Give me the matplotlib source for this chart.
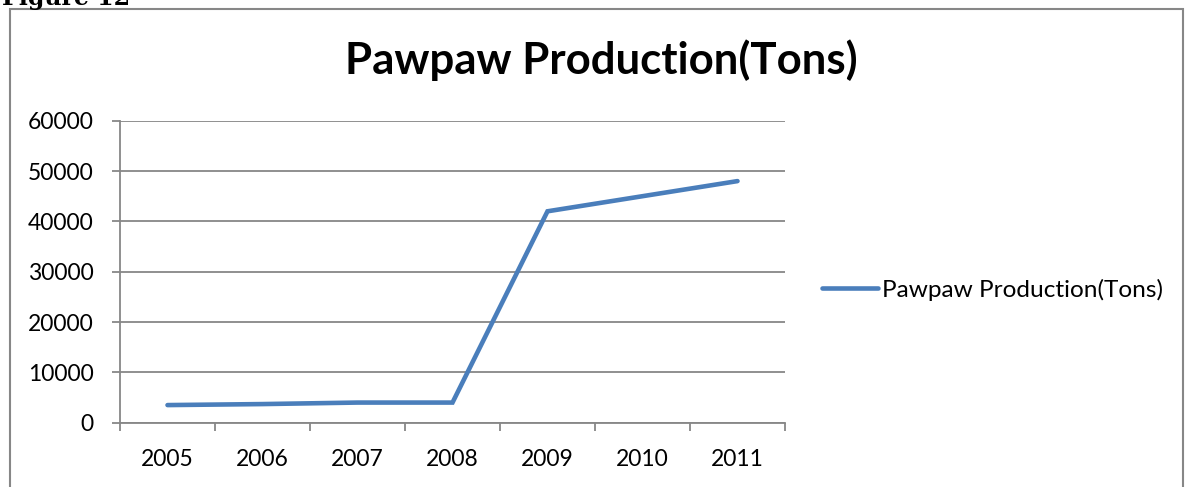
import matplotlib
matplotlib.use("Agg")
import matplotlib.pyplot as plt
from matplotlib.patches import Rectangle
from matplotlib.ticker import FixedLocator, NullFormatter

years = ["2005", "2006", "2007", "2008", "2009", "2010", "2011"]
production = [3500, 3700, 4000, 4000, 42000, 45000, 48000]
y_ticks = [0, 10000, 20000, 30000, 40000, 50000, 60000]
series_name = "Pawpaw Production(Tons)"

W, H, DPI = 1185, 487, 100
fig = plt.figure(figsize=(W / DPI, H / DPI), dpi=DPI)
fig.patch.set_facecolor("white")

font = "Lato"
grey = "#878787"

# caption of the figure, partly above the page edge
fig.text(2 / W, 1 + 14 / H, "Figure 12", family="DejaVu Serif", weight="bold",
         fontsize=17, va="top", ha="left", color="black")

# chart frame
fig.patches.append(Rectangle((10 / W, -0.05), (1183 - 10) / W, 1.05 - 9 / H,
                             transform=fig.transFigure, fill=False,
                             edgecolor=grey, linewidth=1.5))

ax = fig.add_axes([120 / W, 1 - 422.7 / H, (785 - 120) / W, (422.7 - 120.7) / H])
x = list(range(len(years)))
line, = ax.plot(x, production, color="#4A7EBB", linewidth=3.3,
                solid_capstyle="round", solid_joinstyle="miter", label=series_name, zorder=3)

ax.set_xlim(-0.5, len(years) - 0.5)
ax.set_ylim(y_ticks[0], y_ticks[-1])
ax.set_yticks(y_ticks)
ax.set_yticklabels([str(v) for v in y_ticks], family=font, fontsize=16.5)
ax.set_xticks(x)
ax.set_xticklabels(years, family=font, fontsize=16.5)
ax.xaxis.set_minor_locator(FixedLocator([i - 0.5 for i in range(len(years) + 1)]))
ax.xaxis.set_minor_formatter(NullFormatter())

ax.tick_params(axis="x", which="major", length=0, pad=19)
ax.tick_params(axis="x", which="minor", length=6, width=1.3, color=grey, direction="out")
ax.tick_params(axis="y", which="major", length=6, width=1.3, color=grey, pad=13)

ax.grid(axis="y", color=grey, linewidth=1.3, zorder=0)
ax.set_axisbelow(True)
for side in ("top", "right"):
    ax.spines[side].set_visible(False)
for side in ("left", "bottom"):
    ax.spines[side].set_color(grey)
    ax.spines[side].set_linewidth(1.3)

fig.text((343 + 860) / 2 / W, 1 - 60 / H, series_name, family=font, weight="bold",
         fontsize=31.5, ha="center", va="center")

fig.legend(handles=[line], loc="center left", bbox_to_anchor=(822 / W, 1 - 290 / H),
           bbox_transform=fig.transFigure, frameon=False, borderpad=0, borderaxespad=0,
           handlelength=2.3, handletextpad=0.17, prop={"family": font, "size": 17.6})

fig.savefig("out.png", dpi=DPI)
